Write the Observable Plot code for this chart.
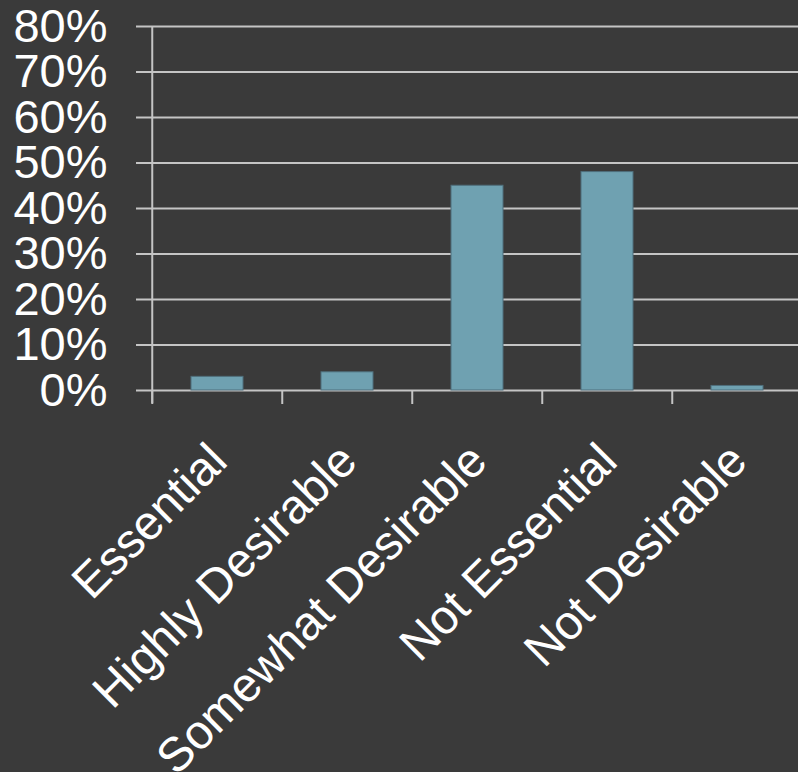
<!DOCTYPE html>
<html>
<head>
<meta charset="utf-8">
<script src="https://cdn.jsdelivr.net/npm/d3@7"></script>
<script src="https://cdn.jsdelivr.net/npm/@observablehq/plot@0.6"></script>
<style>
  html, body { margin: 0; padding: 0; background: #3a3a3a; overflow: hidden; }
  #chart { width: 798px; height: 772px; }
</style>
</head>
<body>
<div id="chart"></div>
<script>
// Survey responses: share of respondents per rating
const categories = ["Essential", "Highly Desirable", "Somewhat Desirable", "Not Essential", "Not Desirable"];
const shares = [3, 4, 45, 48, 1];
const yTicks = [0, 10, 20, 30, 40, 50, 60, 70, 80];

const rows = categories.map((c, i) => ({category: c, share: shares[i]}));

const gridColor = "#c4c4c4";
const step = (803.5 - 151) / categories.length;

const chart = Plot.plot({
  width: 798,
  height: 772,
  marginTop: 26,
  marginBottom: 382,
  marginLeft: 151,
  marginRight: 0,
  style: {
    background: "#3a3a3a",
    color: "#ffffff",
    fontFamily: "'Liberation Sans', Arial, sans-serif"
  },
  x: {domain: categories, range: [151, 803.5], paddingInner: 0.6, paddingOuter: 0.3, axis: null},
  y: {domain: [0, 80], axis: null},
  marks: [
    // horizontal gridlines, extended left as the axis ticks
    Plot.ruleY(yTicks, {stroke: gridColor, strokeWidth: 2, insetLeft: -15}),
    // vertical axis line
    Plot.ruleX([categories[0]], {dx: -step / 2, y1: 80, y2: 0, insetBottom: -13, stroke: gridColor, strokeWidth: 2}),
    // category boundary ticks
    Plot.ruleX(categories, {dx: -step / 2, y1: 0, y2: 0, insetBottom: -14, stroke: gridColor, strokeWidth: 2}),
    Plot.barY(rows, {x: "category", y: "share", fill: "#6fa1b1", stroke: "#4f6f7c", strokeWidth: 1}),
    // y tick labels
    Plot.text(yTicks, {
      y: d => d, text: d => d + "%", frameAnchor: "left", textAnchor: "end",
      dx: -44, fontSize: 47, fill: "#ffffff"
    }),
    // rotated category labels
    Plot.text(categories, {
      x: d => d, y: 0, text: d => d, rotate: -45, textAnchor: "end", lineAnchor: "bottom",
      dx: 12, dy: 73, fontSize: 48, fill: "#ffffff"
    })
  ]
});

document.getElementById("chart").appendChild(chart);
</script>
</body>
</html>
